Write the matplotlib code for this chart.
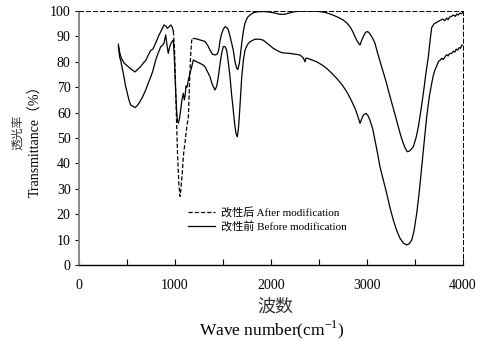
import numpy as np
import matplotlib
matplotlib.use('Agg')
import matplotlib.pyplot as plt
from matplotlib.ticker import MultipleLocator

plt.rcParams['font.family'] = ['Liberation Serif', 'Noto Sans CJK SC', 'DejaVu Sans']
plt.rcParams['mathtext.fontset'] = 'custom'
plt.rcParams['mathtext.rm'] = 'Liberation Serif'
plt.rcParams['lines.scale_dashes'] = False

# ── Data ──────────────────────────────────────────────────────────────────────
wn_after = [410, 425, 440, 470, 500, 530, 555, 583, 610, 640, 670, 695, 720, 747, 770,
            800, 833, 860, 885, 905, 920, 940, 955, 970, 983, 995, 1010, 1025, 1040,
            1052, 1062, 1075, 1090, 1104, 1115, 1125, 1139, 1150, 1162, 1174, 1191,
            1225, 1260, 1290, 1313, 1340, 1365, 1390, 1417, 1440, 1455, 1470, 1486,
            1503, 1521, 1540, 1556, 1580, 1607, 1625, 1643, 1655, 1670, 1682, 1695,
            1712, 1729, 1755, 1781, 1816, 1860, 1920, 1980, 2040, 2090, 2140, 2200,
            2260, 2330, 2420, 2500, 2570, 2646, 2700, 2750, 2790, 2823, 2850, 2875,
            2900, 2927, 2945, 2961, 2980, 2997, 3015, 3031, 3060, 3083, 3110, 3153,
            3200, 3240, 3290, 3326, 3355, 3378, 3400, 3420, 3440, 3460, 3483, 3510,
            3535, 3560, 3587, 3612, 3639, 3656, 3674, 3700, 3726, 3760, 3790, 3810,
            3830, 3845, 3860, 3880, 3900, 3920, 3934, 3950, 3970, 3985, 4000]
t_after = [86.9, 83.5, 81.5, 79.5, 78.5, 77.5, 76.8, 76.0, 77.0, 78.0, 79.5, 80.5, 82.5,
           84.5, 85.0, 87.5, 90.5, 92.5, 94.5, 94.0, 93.2, 93.8, 94.5, 93.8, 92.0, 85.0,
           65.0, 45.0, 32.0, 27.0, 30.0, 36.0, 44.0, 48.0, 52.0, 55.0, 58.0, 70.0, 82.0,
           88.5, 89.2, 89.0, 88.6, 88.3, 88.0, 86.5, 84.6, 83.0, 82.7, 83.0, 84.5, 88.5,
           91.0, 92.8, 93.8, 93.5, 92.5, 89.0, 84.6, 80.0, 77.4, 77.0, 79.4, 83.0, 87.3,
           92.0, 95.2, 97.5, 98.4, 99.3, 99.7, 99.8, 99.6, 99.2, 98.7, 98.7, 99.3, 99.8,
           100.0, 100.0, 99.8, 99.4, 98.4, 97.5, 96.5, 95.3, 93.8, 92.0, 89.9, 88.0,
           86.6, 88.5, 89.9, 91.3, 91.9, 91.7, 91.0, 89.2, 87.3, 83.5, 78.0, 72.0, 66.3,
           59.5, 54.4, 50.5, 47.9, 45.8, 44.6, 44.8, 45.5, 46.6, 50.0, 54.4, 60.5, 67.6,
           75.0, 82.0, 88.0, 93.5, 95.0, 95.5, 96.3, 96.8, 96.2, 97.2, 96.6, 97.6, 97.9,
           98.4, 97.9, 98.8, 98.4, 99.2, 98.9, 99.6]

wn_before = [410, 425, 434, 450, 469, 485, 503, 520, 538, 560, 583, 600, 625, 660, 695,
             720, 747, 770, 799, 825, 851, 870, 885, 903, 915, 930, 945, 955, 970, 983,
             995, 1005, 1015, 1024, 1035, 1048, 1059, 1072, 1087, 1097, 1105, 1115, 1125,
             1139, 1156, 1174, 1191, 1225, 1260, 1290, 1313, 1340, 1365, 1385, 1399,
             1417, 1435, 1451, 1470, 1486, 1503, 1520, 1538, 1555, 1573, 1590, 1607,
             1620, 1635, 1649, 1660, 1670, 1682, 1695, 1712, 1729, 1755, 1781, 1833,
             1880, 1920, 1970, 2024, 2070, 2111, 2160, 2198, 2250, 2302, 2337, 2354,
             2365, 2378, 2420, 2476, 2530, 2580, 2630, 2684, 2740, 2789, 2830, 2875,
             2905, 2927, 2945, 2961, 2990, 3010, 3031, 3060, 3083, 3110, 3135, 3170,
             3205, 3240, 3274, 3310, 3344, 3380, 3413, 3440, 3466, 3490, 3518, 3545,
             3570, 3597, 3622, 3650, 3674, 3690, 3708, 3725, 3743, 3760, 3780, 3795,
             3813, 3830, 3845, 3860, 3882, 3900, 3915, 3930, 3945, 3960, 3975, 3986, 4000]
t_before = [86.0, 81.5, 80.7, 77.5, 74.0, 70.5, 67.6, 65.0, 63.0, 62.5, 62.0, 62.5, 63.7,
            66.0, 68.9, 71.5, 74.0, 76.5, 80.7, 83.5, 85.9, 86.5, 87.3, 90.6, 87.0, 83.3,
            86.0, 87.0, 88.0, 88.6, 80.0, 70.0, 62.0, 57.0, 55.8, 58.0, 61.0, 65.0, 67.6,
            65.0, 66.5, 70.5, 70.0, 72.8, 75.5, 78.0, 80.7, 80.0, 79.4, 78.8, 78.0, 76.0,
            74.0, 71.5, 70.2, 68.9, 70.5, 74.0, 79.5, 83.3, 86.0, 86.0, 84.6, 80.0, 74.0,
            67.0, 61.0, 56.0, 51.8, 50.5, 53.5, 58.4, 66.0, 74.0, 80.5, 84.6, 86.8, 87.9,
            88.9, 88.9, 88.5, 87.0, 85.3, 84.3, 83.6, 83.4, 83.3, 83.0, 82.7, 81.5, 80.0,
            81.4, 81.4, 80.8, 80.0, 78.8, 77.4, 75.6, 73.5, 71.0, 68.2, 65.3, 61.7, 58.5,
            55.8, 57.5, 59.0, 59.7, 58.8, 57.0, 53.5, 49.2, 44.0, 38.7, 33.5, 28.2, 22.5,
            17.7, 13.5, 10.5, 8.6, 7.9, 8.4, 9.8, 13.5, 20.3, 29.0, 38.7, 49.0, 58.4, 66.5,
            71.5, 74.5, 76.8, 78.3, 80.0, 80.6, 81.4, 80.9, 82.0, 82.8, 82.3, 83.2, 83.3,
            84.2, 83.8, 85.0, 84.6, 85.6, 85.3, 86.6, 86.5]

X_MAJOR = [0, 1000, 2000, 3000, 4000]
Y_TICKS = list(range(0, 101, 10))

label_after = '改性后 After modification'
label_before = '改性前 Before modification'

# ── Figure ────────────────────────────────────────────────────────────────────
fig = plt.figure(figsize=(4.86, 3.42), dpi=100)
ax = fig.add_axes([79 / 486, 1 - 265 / 342, 384 / 486, 254 / 342])

wa = np.array(wn_after, dtype=float)
ta = np.array(t_after, dtype=float)
steep = (wa >= 983) & (wa <= 1191)
ax.plot(wa, np.where((wa <= 983) | (wa >= 1191), ta, np.nan),
        color='black', linewidth=0.9)
dash_line, = ax.plot(wa[steep], ta[steep], color='black', linewidth=0.9,
                     linestyle=(0, (3, 1.5)), label=label_after)
solid_line, = ax.plot(wn_before, t_before, color='black', linewidth=0.9,
                      label=label_before)

ax.set_xlim(0, 4000)
ax.set_ylim(0, 100)
ax.set_xticks(X_MAJOR)
ax.xaxis.set_minor_locator(MultipleLocator(500))
ax.set_yticks(Y_TICKS)
ax.tick_params(axis='x', which='both', direction='in', length=4, width=0.8,
               pad=10, labelsize=10)
ax.tick_params(axis='y', direction='out', length=3, width=0.8, pad=3,
               labelsize=10)

for side in ('top', 'right'):
    ax.spines[side].set_linestyle((0, (3, 2)))
    ax.spines[side].set_linewidth(0.7)
ax.spines['left'].set_color('#8a8a8a')
ax.spines['left'].set_linewidth(1.4)
ax.spines['left'].set_linestyle((0, (2, 1)))
ax.spines['bottom'].set_linewidth(1.0)

ax.legend(handles=[dash_line, solid_line], loc='upper left',
          bbox_to_anchor=(0.285, 0.228), frameon=False, fontsize=8,
          handlelength=2.4, handletextpad=0.5, labelspacing=0.25,
          borderpad=0, borderaxespad=0)

# axis titles
fig.text(18 / 486, 1 - 132 / 342, '透光率', rotation=90, ha='center', va='center',
         fontsize=8.5, family=['Noto Sans CJK SC'], color='#333333')
fig.text(36 / 486, 1 - 138 / 342, 'Transmittance（%）', rotation=90, ha='center',
         va='center', fontsize=10)
fig.text(275 / 486, 1 - 307 / 342, '波数', ha='center', va='center', fontsize=13,
         family=['Noto Sans CJK SC'], color='#333333')
fig.text(272 / 486, 1 - 330 / 342, 'Wave number(cm$^{-1}$)', ha='center',
         va='center', fontsize=12.5)

fig.savefig('out.png', dpi=100)
